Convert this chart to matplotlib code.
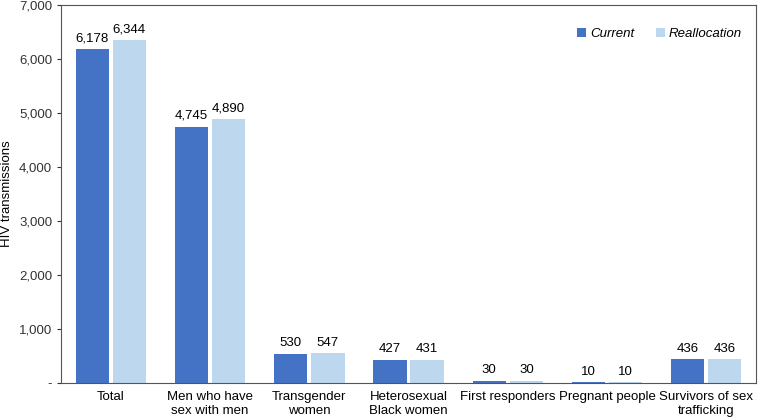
import matplotlib.pyplot as plt
import numpy as np

plt.rcParams['font.family'] = ['Liberation Sans', 'DejaVu Sans']

categories = ['Total', 'Men who have\nsex with men', 'Transgender\nwomen',
              'Heterosexual\nBlack women', 'First responders', 'Pregnant people',
              'Survivors of sex\ntrafficking']
current = [6178, 4745, 530, 427, 30, 10, 436]
reallocation = [6344, 4890, 547, 431, 30, 10, 436]

x = np.arange(len(categories))
w = 0.335

fig = plt.figure(figsize=(7.65, 4.19), dpi=100)
ax = fig.add_axes([0.080, 0.086, 0.908, 0.902])

b1 = ax.bar(x - w / 2 - 0.02, current, w, color='#4472C4', label='Current')
b2 = ax.bar(x + w / 2 + 0.02, reallocation, w, color='#BDD7EE', label='Reallocation')

for bars in (b1, b2):
    for r in bars:
        ax.text(r.get_x() + r.get_width() / 2, r.get_height() + 90,
                f'{int(r.get_height()):,}', ha='center', va='bottom', fontsize=9.5)

ax.set_xlim(-0.5, len(categories) - 0.5)
ax.set_ylim(0, 7000)
ax.set_yticks(range(0, 7001, 1000))
ax.set_yticklabels(['-'] + [f'{v:,}' for v in range(1000, 7001, 1000)])
ax.set_xticks(x)
ax.set_xticklabels(categories)
ax.tick_params(axis='x', length=0, labelsize=9.5, pad=6)
ax.tick_params(axis='y', length=3, labelsize=9.5, colors='#333333')
ax.set_ylabel('HIV transmissions', fontsize=9.5)

for s in ax.spines.values():
    s.set_color('#555555')
    s.set_linewidth(0.8)

leg = ax.legend(loc='upper right', bbox_to_anchor=(0.997, 0.97), frameon=False, ncol=2,
                handlelength=0.7, handleheight=0.7, handletextpad=0.3, columnspacing=1.6,
                prop={'style': 'italic', 'size': 9.5})

fig.savefig('out.png', dpi=100)
